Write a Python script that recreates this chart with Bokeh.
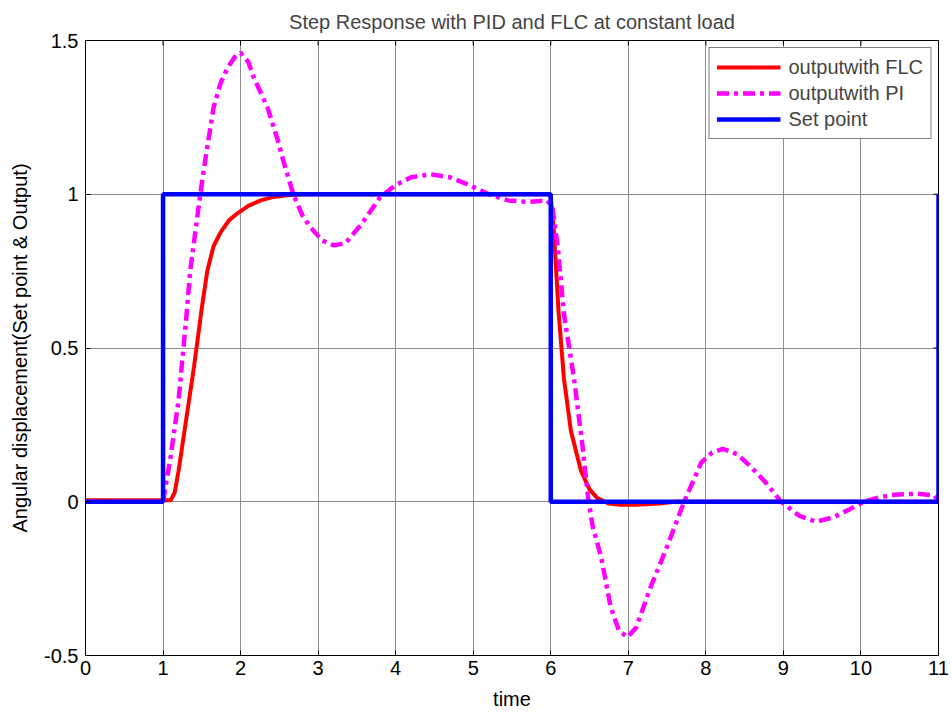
import math
from bokeh.plotting import figure
from bokeh.models import FixedTicker, Range1d, Legend, LegendItem
from bokeh.embed import file_html
from bokeh.resources import INLINE

# ---- data ----
flc_t = [0.0, 1.1, 1.15, 1.2, 1.3, 1.4, 1.5, 1.57, 1.65, 1.74, 1.85, 1.96, 2.1, 2.26, 2.4, 2.6, 2.8, 3.0,
         4.0, 5.0, 5.98, 6.0, 6.04, 6.1, 6.17, 6.26, 6.39, 6.5, 6.6, 6.75, 6.9, 7.1, 7.4, 7.6, 9.0, 11.0]
flc_y = [0.005, 0.005, 0.03, 0.1, 0.27, 0.44, 0.63, 0.75, 0.83, 0.875, 0.915, 0.938, 0.962, 0.98, 0.99, 0.997, 1.0, 1.0,
         1.0, 1.0, 1.0, 0.99, 0.88, 0.62, 0.40, 0.23, 0.10, 0.04, 0.012, -0.006, -0.01, -0.01, -0.006, 0.0, 0.0, 0.0]

pi_t = [0.0, 1.0, 1.1, 1.2, 1.3, 1.35, 1.48, 1.55, 1.65, 1.74, 1.83, 1.92, 2.0, 2.1, 2.17, 2.26, 2.35, 2.48, 2.55, 2.68,
        2.8, 2.9, 3.05, 3.2, 3.35, 3.55, 3.8, 4.0, 4.2, 4.45, 4.7, 4.95, 5.2, 5.45, 5.7, 5.95,
        6.02, 6.09, 6.17, 6.3, 6.41, 6.48, 6.54, 6.65, 6.77, 6.88, 6.99, 7.1, 7.29, 7.5, 7.72, 7.94, 8.08, 8.22,
        8.4, 8.58, 8.78, 8.97, 9.2, 9.42, 9.65, 9.85, 10.04, 10.25, 10.43, 10.73, 10.95, 11.0]
pi_y = [0.0, 0.0, 0.15, 0.33, 0.6, 0.75, 1.0, 1.12, 1.28, 1.36, 1.41, 1.445, 1.46, 1.43, 1.38, 1.33, 1.28, 1.175, 1.11, 1.0,
        0.93, 0.893, 0.85, 0.834, 0.84, 0.9, 0.99, 1.03, 1.055, 1.065, 1.055, 1.03, 1.0, 0.98, 0.975, 0.98,
        0.96, 0.83, 0.61, 0.40, 0.18, 0.016, -0.08, -0.18, -0.34, -0.42, -0.44, -0.41, -0.276, -0.146, 0.0, 0.127, 0.16, 0.172,
        0.155, 0.114, 0.06, 0.0, -0.045, -0.065, -0.05, -0.025, 0.0, 0.015, 0.023, 0.026, 0.02, 0.0]

sp_t = [0, 1, 1, 6, 6, 11, 11]
sp_y = [0, 0, 1, 1, 0, 0, 1]

x_ticks = list(range(0, 12))
y_ticks = [-0.5, 0, 0.5, 1, 1.5]
y_tick_labels = {-0.5: "-0.5", 0: "0", 0.5: "0.5", 1: "1", 1.5: "1.5"}

FONT = "Liberation Sans"
FS = "20px"

p = figure(width=952, height=713, output_backend="svg", toolbar_location=None,
           x_range=Range1d(x_ticks[0], x_ticks[-1]), y_range=Range1d(y_ticks[0], y_ticks[-1]),
           min_border_left=85, min_border_right=14, min_border_top=40, min_border_bottom=58,
           title="Step Response with PID and FLC at constant load")

p.title.align = "center"
p.title.vertical_align = "top"
p.title.text_font = FONT
p.title.text_font_size = FS
p.title.text_font_style = "normal"
p.title.offset = 0
p.title.standoff = 12

p.outline_line_color = "black"
p.outline_line_width = 1
p.background_fill_color = "white"
p.border_fill_color = "white"

for ax in (p.xaxis[0], p.yaxis[0]):
    ax.major_tick_in = 5
    ax.major_tick_out = 0
    ax.minor_tick_line_color = None
    ax.axis_line_color = "black"
    ax.major_tick_line_color = "black"
    ax.major_label_text_font = FONT
    ax.major_label_text_font_size = FS
    ax.major_label_text_color = "black"
    ax.axis_label_text_font = FONT
    ax.axis_label_text_font_size = FS
    ax.axis_label_text_font_style = "normal"
    ax.axis_label_text_color = "black"

p.xaxis[0].ticker = FixedTicker(ticks=x_ticks)
p.yaxis[0].ticker = FixedTicker(ticks=y_ticks)
p.yaxis[0].major_label_overrides = y_tick_labels
p.xaxis[0].axis_label = "time"
p.yaxis[0].axis_label = "Angular displacement(Set point & Output)"
p.xaxis[0].major_label_standoff = 5
p.xaxis[0].axis_label_standoff = 10
p.yaxis[0].major_label_standoff = 7
p.yaxis[0].axis_label_standoff = 10

p.xgrid.ticker = FixedTicker(ticks=x_ticks)
p.ygrid.ticker = FixedTicker(ticks=y_ticks)
for g in (p.xgrid[0], p.ygrid[0]):
    g.grid_line_color = "#8c8c8c"
    g.grid_line_width = 1

# inward tick marks on the top and right edges of the box (clipped to the frame)
p.scatter(x_ticks, [y_ticks[-1]] * len(x_ticks), marker="dash", size=10, angle=math.pi / 2,
          line_color="black", line_width=1)
p.scatter([x_ticks[-1]] * len(y_ticks), y_ticks, marker="dash", size=10,
          line_color="black", line_width=1)

r_flc = p.line(flc_t, flc_y, line_color="#ff0000", line_width=4)
r_pi = p.line(pi_t, pi_y, line_color="#ff00ff", line_width=4.5, line_dash="12 5 4 5")
r_sp = p.line(sp_t, sp_y, line_color="#0000ff", line_width=4.5)

legend = Legend(items=[LegendItem(label="outputwith FLC", renderers=[r_flc]),
                       LegendItem(label="outputwith PI", renderers=[r_pi]),
                       LegendItem(label="Set point", renderers=[r_sp])],
                location="top_right")
legend.margin = 7
legend.padding = 7
legend.spacing = 2
legend.glyph_width = 64
legend.glyph_height = 24
legend.label_height = 24
legend.label_standoff = 8
legend.label_text_font = FONT
legend.label_text_font_size = FS
legend.border_line_color = "black"
legend.border_line_width = 1
legend.background_fill_alpha = 1
p.add_layout(legend, "center")

open("out.html", "w").write(file_html(p, INLINE))
